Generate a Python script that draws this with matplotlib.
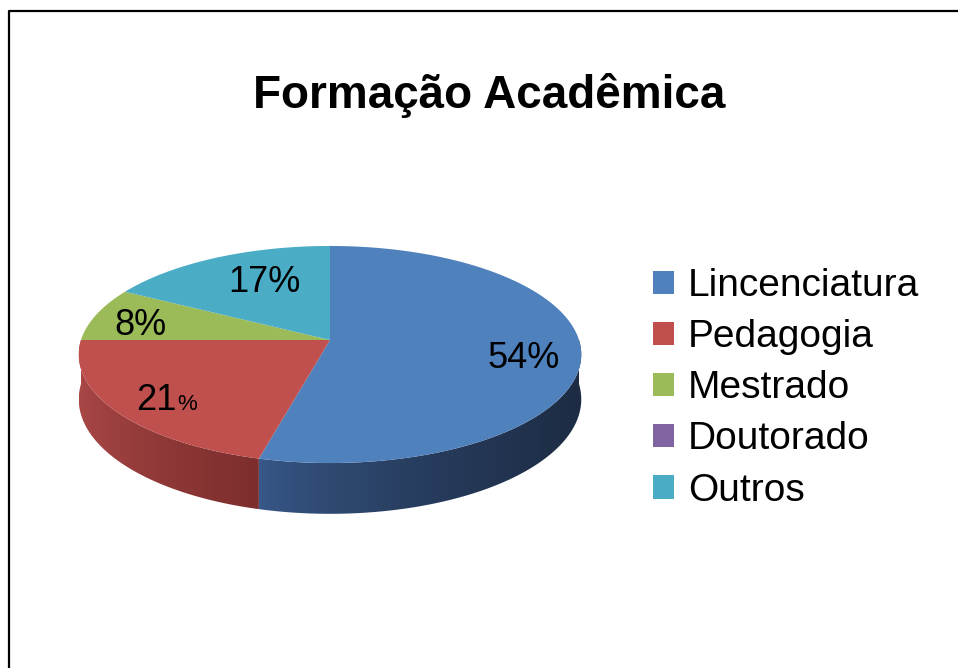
import numpy as np
import matplotlib.pyplot as plt
from matplotlib.patches import Polygon, Patch
from matplotlib.colors import LinearSegmentedColormap

plt.rcParams['font.family'] = ['Liberation Sans', 'DejaVu Sans']

# data
categories = ['Lincenciatura', 'Pedagogia', 'Mestrado', 'Doutorado', 'Outros']
values = [54, 21, 8, 0, 17]
colors = ['#4f81bd', '#c0504d', '#9bbb59', '#8064a2', '#4bacc6']
# side wall gradients (light -> dark), only front slices show them
wall_colors = {'Lincenciatura': ('#38598a', '#1d2c44'),
               'Pedagogia': ('#aa4846', '#7c2e2d')}
# small nudges of the data labels (pixels), as Excel placed them
label_nudge = {'Lincenciatura': (-2, 8), 'Pedagogia': (-6, 6),
               'Mestrado': (-6, 6), 'Outros': (25, 8)}

# pie geometry in pixel space
CX, CY = 330, 340
A, B = 249, 106.6
P = 0.1336          # perspective
DEPTH = 44
LABEL_FRAC = 0.78


def proj(theta, frac=1.0, drop=0.0):
    t = np.radians(theta)
    u = frac * np.cos(t)
    v = frac * np.sin(t)
    s = 1.0 / (1.0 + P * v)
    return CX + A * u * s, CY - B * v * s + drop * s


fig = plt.figure(figsize=(9.58, 6.68), dpi=100)
ax = fig.add_axes([0, 0, 1, 1])

# outer frame (only top and left edges visible)
ax.plot([9, 9, 958], [668, 11, 11], color='black', lw=1.6, solid_capstyle='butt')

total = float(sum(values))
start = 90.0
wedges = []
for cat, val, col in zip(categories, values, colors):
    sweep = 360.0 * val / total
    wedges.append((cat, val, col, start - sweep, start))
    start -= sweep

# side walls
gradient = np.linspace(0, 1, 256) ** 0.7
gradient = np.vstack([gradient, gradient])
for cat, val, col, a0, a1 in wedges:
    if val == 0 or cat not in wall_colors:
        continue
    lo = a0 % 360 if a0 % 360 >= 180 else a0 % 360 + 360
    hi = a1 % 360 if a1 % 360 > lo else a1 % 360 + 360
    lo, hi = max(lo, 180), min(hi, 360)
    if hi <= lo:
        continue
    th = np.linspace(lo, hi, 120)
    xt, yt = proj(th)
    xb, yb = proj(th[::-1], drop=DEPTH)
    pts = np.column_stack([np.concatenate([xt, xb]), np.concatenate([yt, yb])])
    poly = Polygon(pts, closed=True, facecolor='none', edgecolor='none')
    ax.add_patch(poly)
    cmap = LinearSegmentedColormap.from_list(cat, wall_colors[cat])
    im = ax.imshow(gradient, cmap=cmap, aspect='auto',
                   extent=(pts[:, 0].min(), pts[:, 0].max(), pts[:, 1].max(), pts[:, 1].min()),
                   interpolation='bilinear', zorder=2)
    im.set_clip_path(poly)

# top faces
for cat, val, col, a0, a1 in wedges:
    if val == 0:
        continue
    th = np.linspace(a1, a0, 200)
    xs, ys = proj(th)
    pts = np.column_stack([np.concatenate([[CX], xs]), np.concatenate([[CY], ys])])
    ax.add_patch(Polygon(pts, closed=True, facecolor=col, edgecolor='none', zorder=3))

# data labels
for cat, val, col, a0, a1 in wedges:
    if val == 0:
        continue
    lx, ly = proj((a0 + a1) / 2, frac=LABEL_FRAC)
    dx, dy = label_nudge.get(cat, (0, 0))
    lx, ly = lx + dx, ly + dy
    if cat == 'Pedagogia':
        t = ax.text(lx - 4, ly, str(val), fontsize=26, ha='center', va='center', zorder=5)
        ax.annotate('%', xy=(1, 0.08), xycoords=t, xytext=(1, 0), textcoords='offset points',
                    fontsize=16, ha='left', va='bottom', zorder=5)
    else:
        ax.text(lx, ly, f'{val}%', fontsize=26, ha='center', va='center', zorder=5)

ax.text(489, 95, 'Formação Acadêmica', fontsize=33, fontweight='bold',
        ha='center', va='center')

handles = [Patch(facecolor=c, edgecolor='none') for c in colors]
ax.legend(handles, categories, loc='upper left', bbox_to_anchor=(653 / 958, 1 - 268 / 668),
          frameon=False, fontsize=28, handlelength=0.55, handleheight=0.55,
          handletextpad=0.35, labelspacing=0.39, borderpad=0, borderaxespad=0)

ax.set_xlim(0, 958)
ax.set_ylim(668, 0)
ax.axis('off')
fig.savefig('out.png', dpi=100)
